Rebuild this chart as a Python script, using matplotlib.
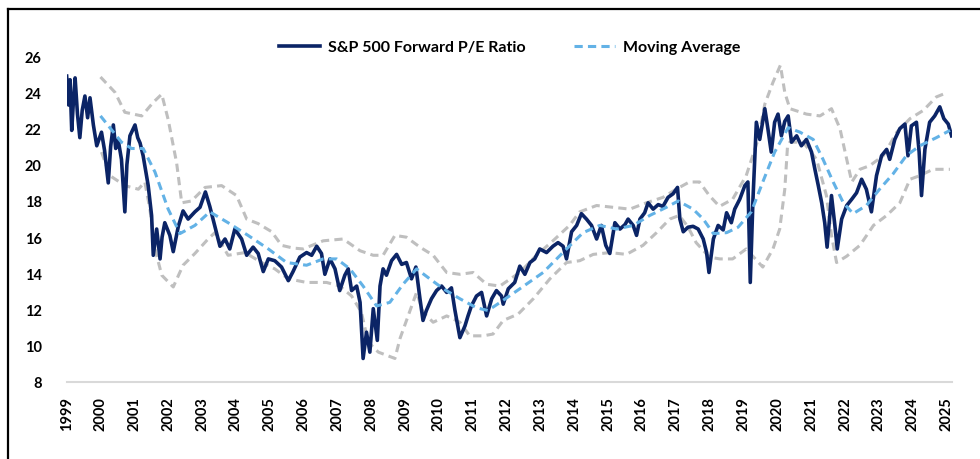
import matplotlib
matplotlib.use("Agg")
import matplotlib.pyplot as plt
from matplotlib.lines import Line2D

plt.rcParams['font.family'] = ['Lato', 'DejaVu Sans']

# S&P 500 forward P/E (decimal years)
pe_dates = [1999.00, 1999.06, 1999.10, 1999.15, 1999.20, 1999.25, 1999.32, 1999.39, 1999.46, 1999.54,
            1999.62, 1999.69, 1999.79, 1999.89, 2000.03, 2000.12, 2000.23, 2000.30, 2000.38, 2000.45,
            2000.52, 2000.62, 2000.72, 2000.78, 2000.87, 2001.02, 2001.10, 2001.17, 2001.26, 2001.41,
            2001.51, 2001.56, 2001.66, 2001.76, 2001.82, 2001.90, 2002.05, 2002.15, 2002.30, 2002.44,
            2002.59, 2002.79, 2002.94, 2003.10, 2003.23, 2003.38, 2003.53, 2003.68, 2003.82, 2003.97,
            2004.17, 2004.32, 2004.51, 2004.66, 2004.81, 2004.96, 2005.15, 2005.35, 2005.55, 2005.69,
            2005.89, 2006.09, 2006.24, 2006.39, 2006.53, 2006.63, 2006.78, 2006.93, 2007.07, 2007.22,
            2007.32, 2007.42, 2007.57, 2007.67, 2007.76, 2007.86, 2007.96, 2008.06, 2008.18, 2008.26,
            2008.35, 2008.45, 2008.60, 2008.75, 2008.90, 2009.04, 2009.19, 2009.32, 2009.44, 2009.53,
            2009.63, 2009.78, 2009.93, 2010.08, 2010.23, 2010.37, 2010.47, 2010.62, 2010.77, 2010.86,
            2010.96, 2011.11, 2011.26, 2011.41, 2011.56, 2011.70, 2011.85, 2011.90, 2012.05, 2012.24,
            2012.39, 2012.54, 2012.69, 2012.83, 2012.98, 2013.18, 2013.37, 2013.52, 2013.67, 2013.77,
            2013.92, 2014.07, 2014.21, 2014.36, 2014.51, 2014.66, 2014.80, 2014.93, 2015.05, 2015.20,
            2015.35, 2015.50, 2015.59, 2015.74, 2015.84, 2015.94, 2016.08, 2016.18, 2016.33, 2016.48,
            2016.62, 2016.77, 2016.92, 2017.05, 2017.12, 2017.22, 2017.36, 2017.51, 2017.66, 2017.81,
            2017.91, 2017.98, 2018.11, 2018.25, 2018.40, 2018.50, 2018.64, 2018.74, 2018.89, 2019.04,
            2019.13, 2019.20, 2019.28, 2019.38, 2019.48, 2019.63, 2019.72, 2019.82, 2019.92, 2020.02,
            2020.12, 2020.22, 2020.32, 2020.42, 2020.57, 2020.71, 2020.86, 2021.01, 2021.11, 2021.21,
            2021.31, 2021.40, 2021.47, 2021.60, 2021.70, 2021.77, 2021.90, 2022.05, 2022.20, 2022.34,
            2022.49, 2022.63, 2022.78, 2022.93, 2023.08, 2023.23, 2023.32, 2023.47, 2023.62, 2023.77,
            2023.86, 2023.96, 2024.11, 2024.19, 2024.26, 2024.36, 2024.50, 2024.65, 2024.80, 2024.92,
            2025.05, 2025.15]
pe_values = [24.9, 23.3, 24.7, 21.9, 23.5, 24.8, 22.8, 21.5, 23.0, 23.8,
             22.6, 23.7, 22.2, 21.05, 21.8, 20.8, 19.0, 21.0, 22.2, 20.9,
             21.4, 20.3, 17.4, 20.0, 21.6, 22.2, 21.5, 21.2, 20.5, 18.85,
             17.2, 15.0, 16.45, 14.8, 16.0, 16.8, 16.1, 15.2, 16.6, 17.45,
             17.0, 17.4, 17.65, 18.5, 17.7, 16.6, 15.5, 15.9, 15.35, 16.45,
             15.9, 15.0, 15.45, 15.1, 14.1, 14.8, 14.7, 14.35, 13.6, 14.1,
             14.9, 15.15, 15.0, 15.5, 15.1, 13.95, 14.8, 14.25, 13.05, 13.9,
             14.25, 13.05, 13.3, 12.4, 9.3, 10.75, 9.65, 12.05, 10.3, 13.3,
             14.25, 13.9, 14.7, 15.05, 14.5, 14.6, 13.7, 14.35, 12.6, 11.4,
             11.95, 12.6, 13.05, 13.3, 12.95, 13.2, 12.0, 10.45, 11.1, 11.65,
             12.2, 12.75, 12.95, 11.65, 12.6, 13.05, 12.75, 12.3, 13.15, 13.5,
             14.4, 13.95, 14.6, 14.8, 15.35, 15.15, 15.5, 15.7, 15.5, 14.8,
             16.3, 16.65, 17.3, 17.0, 16.65, 15.9, 16.65, 15.55, 15.1, 16.8,
             16.45, 16.7, 17.0, 16.65, 16.1, 17.0, 17.35, 17.9, 17.55, 17.8,
             17.7, 18.2, 18.4, 18.75, 17.0, 16.3, 16.55, 16.6, 16.45, 15.9,
             15.15, 14.05, 15.9, 16.65, 16.4, 17.35, 16.8, 17.55, 18.1, 18.85,
             19.05, 13.5, 18.1, 22.35, 21.4, 23.1, 22.0, 20.7, 22.35, 22.8,
             21.6, 22.4, 22.7, 21.25, 21.6, 21.05, 21.4, 20.7, 19.75, 18.85,
             17.9, 16.8, 15.45, 18.3, 16.65, 15.35, 17.0, 17.75, 18.1, 18.45,
             19.2, 18.65, 17.4, 19.4, 20.5, 20.85, 20.3, 21.4, 22.0, 22.25,
             20.5, 22.15, 22.35, 20.7, 18.3, 20.85, 22.35, 22.7, 23.2, 22.55,
             22.25, 21.6]

ma_dates = [2000.00, 2000.62, 2000.92, 2001.26, 2001.61, 2002.00, 2002.35, 2002.79, 2003.23, 2003.77,
            2004.36, 2004.96, 2005.50, 2006.09, 2006.58, 2006.98, 2007.37, 2007.76, 2008.16, 2008.55,
            2008.94, 2009.34, 2009.73, 2010.13, 2010.62, 2011.11, 2011.45, 2011.85, 2012.39, 2013.08,
            2013.77, 2014.26, 2014.75, 2015.25, 2015.74, 2016.23, 2016.72, 2017.07, 2017.51, 2017.81,
            2018.11, 2018.50, 2018.84, 2019.23, 2019.57, 2019.92, 2020.32, 2020.67, 2021.06, 2021.35,
            2021.65, 2021.95, 2022.24, 2022.63, 2023.02, 2023.42, 2023.81, 2024.21, 2024.70, 2025.10]
ma_values = [22.7, 21.25, 20.9, 20.9, 19.6, 17.55, 16.2, 16.65, 17.4, 16.8,
             16.1, 15.35, 14.6, 14.45, 14.8, 14.8, 14.25, 13.3, 12.2, 12.4,
             13.4, 14.25, 13.7, 13.15, 12.6, 12.1, 11.95, 12.45, 13.15, 14.05,
             15.35, 16.25, 16.65, 16.45, 16.65, 17.2, 17.65, 18.0, 17.55, 17.0,
             16.2, 16.25, 16.55, 17.4, 19.05, 20.7, 22.05, 21.8, 21.4, 20.3,
             19.05, 17.9, 17.3, 17.75, 18.65, 19.5, 20.5, 21.05, 21.5, 21.9]

upper_dates = [2000.00, 2000.43, 2000.72, 2001.22, 2001.56, 2001.81, 2002.00, 2002.25, 2002.40, 2002.69,
               2003.09, 2003.58, 2004.02, 2004.32, 2004.66, 2005.06, 2005.35, 2005.69, 2005.99, 2006.58,
               2007.17, 2007.67, 2008.06, 2008.35, 2008.70, 2009.04, 2009.44, 2009.83, 2010.23, 2010.62,
               2011.01, 2011.41, 2011.80, 2012.39, 2012.88, 2013.37, 2013.86, 2014.16, 2014.66, 2015.15,
               2015.64, 2016.13, 2016.62, 2017.01, 2017.40, 2017.70, 2017.99, 2018.29, 2018.68, 2019.08,
               2019.43, 2019.63, 2019.87, 2020.09, 2020.22, 2020.37, 2020.86, 2021.26, 2021.60, 2021.85,
               2022.05, 2022.20, 2022.44, 2022.73, 2023.13, 2023.53, 2023.92, 2024.31, 2024.70, 2024.90]
upper_values = [24.85, 24.0, 22.9, 22.7, 23.45, 23.9, 22.5, 20.1, 17.9, 18.0,
                18.75, 18.85, 18.3, 17.0, 16.75, 16.3, 15.55, 15.4, 15.35, 15.8,
                15.9, 15.25, 15.0, 15.0, 16.1, 16.0, 15.45, 15.0, 14.05, 13.95,
                14.05, 13.4, 13.3, 14.05, 15.0, 15.8, 16.65, 17.4, 17.75, 17.65,
                17.55, 17.9, 18.2, 18.65, 19.05, 19.05, 18.3, 17.7, 18.1, 19.4,
                21.4, 23.35, 24.55, 25.5, 24.0, 23.1, 22.8, 22.7, 23.1, 22.0,
                20.3, 19.05, 19.75, 19.95, 20.5, 21.8, 22.55, 23.0, 23.75, 23.9]

lower_dates = [2000.03, 2000.28, 2000.72, 2001.12, 2001.31, 2001.46, 2001.61, 2001.81, 2002.15, 2002.44,
               2002.79, 2003.18, 2003.38, 2003.77, 2004.27, 2004.76, 2005.15, 2005.55, 2006.09, 2006.68,
               2007.07, 2007.42, 2007.71, 2007.91, 2008.21, 2008.70, 2008.85, 2009.09, 2009.34, 2009.53,
               2009.83, 2010.23, 2010.62, 2010.91, 2011.31, 2011.60, 2011.90, 2012.34, 2012.79, 2013.28,
               2013.77, 2014.16, 2014.56, 2015.05, 2015.54, 2016.03, 2016.43, 2016.82, 2017.10, 2017.35,
               2017.60, 2017.99, 2018.30, 2018.68, 2019.08, 2019.57, 2019.87, 2020.07, 2020.22, 2020.30,
               2020.37, 2020.76, 2021.16, 2021.45, 2021.60, 2021.75, 2022.05, 2022.44, 2022.84, 2023.23,
               2023.62, 2023.92, 2024.21, 2024.60, 2025.10]
lower_values = [20.7, 19.4, 18.85, 18.65, 19.05, 17.55, 15.35, 13.9, 13.25, 14.45,
                15.1, 15.9, 16.25, 15.0, 15.15, 14.6, 14.25, 13.7, 13.5, 13.5,
                13.3, 12.75, 11.85, 10.2, 9.65, 9.3, 10.4, 11.65, 12.95, 11.85,
                11.3, 11.65, 11.3, 10.55, 10.55, 10.65, 11.4, 11.75, 12.6, 13.7,
                14.6, 14.7, 15.05, 15.15, 15.05, 15.55, 16.25, 17.0, 17.2, 16.6,
                15.7, 14.9, 14.8, 14.8, 15.35, 14.35, 15.35, 16.45, 18.65, 21.0,
                21.25, 21.25, 20.3, 18.3, 16.1, 14.6, 14.95, 15.55, 16.65, 17.2,
                17.9, 19.2, 19.4, 19.75, 19.75]

years = list(range(1999, 2026))
y_ticks = list(range(8, 27, 2))

navy = "#0b2466"
light_blue = "#63b2e6"
grey = "#bfbfbf"

fig = plt.figure(figsize=(9.8, 4.6), dpi=100)
ax = fig.add_axes([0.068, 0.1674, 0.9034, 0.7083])

ax.plot(upper_dates, upper_values, color=grey, lw=2.2, dashes=(2.7, 1.7))
ax.plot(lower_dates, lower_values, color=grey, lw=2.2, dashes=(2.7, 1.7))
ax.plot(ma_dates, ma_values, color=light_blue, lw=2.2, dashes=(2.7, 1.7),
        label="Moving Average", zorder=4)
ax.plot(pe_dates, pe_values, color=navy, lw=2.6, label="S&P 500 Forward P/E Ratio", zorder=3)

ax.set_xlim(1999, 2025.16)
ax.set_ylim(8, 26)
ax.set_xticks(years)
ax.set_xticklabels([str(y) for y in years], rotation=90, fontweight="bold", fontsize=10.5)
ax.set_yticks(y_ticks)
ax.set_yticklabels([str(v) for v in y_ticks], fontweight="bold", fontsize=10.5)
ax.tick_params(axis="both", length=0)
ax.tick_params(axis="y", pad=18)
ax.tick_params(axis="x", pad=10)
for s in ["top", "right", "left"]:
    ax.spines[s].set_visible(False)
ax.spines["bottom"].set_color("#d9d9d9")
ax.spines["bottom"].set_linewidth(1.5)

# legend order as in the picture: P/E first, then moving average
h, l = ax.get_legend_handles_labels()
fig.legend([h[1], h[0]], [l[1], l[0]], loc="center", bbox_to_anchor=(0.52, 0.895), ncol=2,
           frameon=False, handlelength=2.6, columnspacing=3.0, handletextpad=0.5,
           prop={"weight": "bold", "size": 11.5})

# outer frame (top and left edges visible)
fig.add_artist(Line2D([0.008, 1.0], [0.978, 0.978], color="black", lw=1.6))
fig.add_artist(Line2D([0.008, 0.008], [0.0, 0.978], color="black", lw=1.6))

fig.savefig("out.png", dpi=100)
